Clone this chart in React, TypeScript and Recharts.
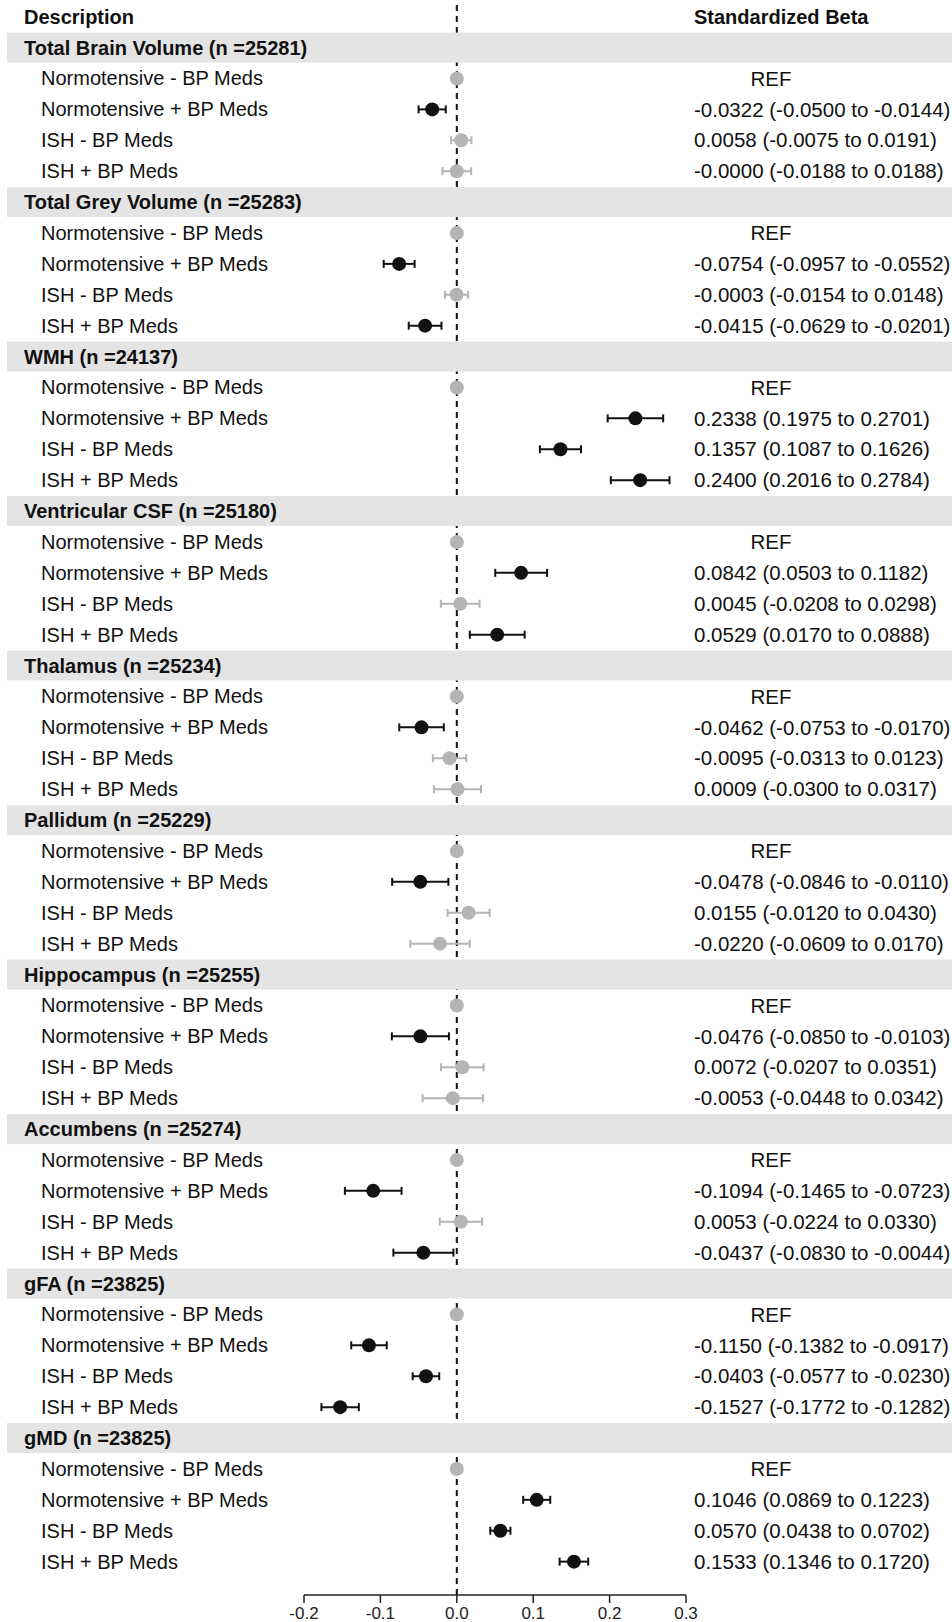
import React from "react";
import { ScatterChart, Scatter, XAxis, YAxis, ErrorBar, ReferenceLine } from "recharts";

const GROUPS = [
  "Total Brain Volume", "Total Grey Volume", "WMH", "Ventricular CSF", "Thalamus",
  "Pallidum", "Hippocampus", "Accumbens", "gFA", "gMD",
];
const GROUP_N = [25281, 25283, 24137, 25180, 25234, 25229, 25255, 25274, 23825, 23825];
const SUBGROUPS = ["Normotensive - BP Meds", "Normotensive + BP Meds", "ISH - BP Meds", "ISH + BP Meds"];

// beta / lower / upper for the three non-reference subgroups of every measure
const BETA = [
  [-0.0322, 0.0058, -0], [-0.0754, -0.0003, -0.0415], [0.2338, 0.1357, 0.24],
  [0.0842, 0.0045, 0.0529], [-0.0462, -0.0095, 0.0009], [-0.0478, 0.0155, -0.022],
  [-0.0476, 0.0072, -0.0053], [-0.1094, 0.0053, -0.0437], [-0.115, -0.0403, -0.1527],
  [0.1046, 0.057, 0.1533],
];
const LOWER = [
  [-0.05, -0.0075, -0.0188], [-0.0957, -0.0154, -0.0629], [0.1975, 0.1087, 0.2016],
  [0.0503, -0.0208, 0.017], [-0.0753, -0.0313, -0.03], [-0.0846, -0.012, -0.0609],
  [-0.085, -0.0207, -0.0448], [-0.1465, -0.0224, -0.083], [-0.1382, -0.0577, -0.1772],
  [0.0869, 0.0438, 0.1346],
];
const UPPER = [
  [-0.0144, 0.0191, 0.0188], [-0.0552, 0.0148, -0.0201], [0.2701, 0.1626, 0.2784],
  [0.1182, 0.0298, 0.0888], [-0.017, 0.0123, 0.0317], [-0.011, 0.043, 0.017],
  [-0.0103, 0.0351, 0.0342], [-0.0723, 0.033, -0.0044], [-0.0917, -0.023, -0.1282],
  [0.1223, 0.0702, 0.172],
];
const X_TICKS = [-0.2, -0.1, 0, 0.1, 0.2, 0.3];

type Row = { kind: "group" | "ref" | "est"; label: string; beta?: number; lo?: number; hi?: number };

const ROWS: Row[] = [];
GROUPS.forEach((g, gi) => {
  ROWS.push({ kind: "group", label: `${g} (n =${GROUP_N[gi]})` });
  SUBGROUPS.forEach((s, si) => {
    if (si === 0) ROWS.push({ kind: "ref", label: s, beta: 0 });
    else ROWS.push({ kind: "est", label: s, beta: BETA[gi][si - 1], lo: LOWER[gi][si - 1], hi: UPPER[gi][si - 1] });
  });
});

const fmt = (v: number) => (v < 0 || Object.is(v, -0) ? "-" : "") + Math.abs(v).toFixed(4);

const points = ROWS.map((r, i) => ({ r, i })).filter(({ r }) => r.kind !== "group");
const toPoint = ({ r, i }: { r: Row; i: number }) => ({
  x: r.beta, y: i, err: r.kind === "est" ? [r.beta! - r.lo!, r.hi! - r.beta!] : [0, 0],
});
const isSig = (r: Row) => r.lo! > 0 || r.hi! < 0;
const sigData = points.filter(({ r }) => r.kind === "est" && isSig(r)).map(toPoint);
const nsData = points.filter(({ r }) => r.kind === "est" && !isSig(r)).map(toPoint);
const refData = points.filter(({ r }) => r.kind === "ref").map(toPoint);

const TICK_IDX = [-1, ...ROWS.map((_, i) => i)];
const Y_DOMAIN = [-1.54, 50.08];
const INK = "#111";
const GREY = "#b4b4b4";
const FONT = "'Liberation Sans', Arial, sans-serif";

const LeftTick = (props: any) => {
  const idx = props.payload.value;
  const y = props.y;
  if (idx === -1) {
    return <text x={24} y={y} dy="0.35em" fontSize={20} fontWeight="bold" fill={INK} fontFamily={FONT}>Description</text>;
  }
  const row = ROWS[idx];
  if (!row) return null;
  if (row.kind === "group") {
    return (
      <g>
        <rect x={7} y={y - 15} width={945} height={30} fill="#e4e4e4" />
        <text x={24} y={y} dy="0.35em" fontSize={20} fontWeight="bold" fill={INK} fontFamily={FONT}>{row.label}</text>
      </g>
    );
  }
  return <text x={41} y={y} dy="0.35em" fontSize={20} fill={INK} fontFamily={FONT}>{row.label}</text>;
};

const RightTick = (props: any) => {
  const idx = props.payload.value;
  const y = props.y;
  if (idx === -1) {
    return <text x={694} y={y} dy="0.35em" fontSize={20} fontWeight="bold" fill={INK} fontFamily={FONT}>Standardized Beta</text>;
  }
  const row = ROWS[idx];
  if (!row || row.kind === "group") return null;
  if (row.kind === "ref") {
    return <text x={771} y={y} dy="0.35em" fontSize={20.5} textAnchor="middle" fill={INK} fontFamily={FONT}>REF</text>;
  }
  return (
    <text x={694} y={y} dy="0.35em" fontSize={20.5} fill={INK} fontFamily={FONT}>
      {`${fmt(row.beta!)} (${fmt(row.lo!)} to ${fmt(row.hi!)})`}
    </text>
  );
};

const dot = (fill: string) => (p: any) => <circle cx={p.cx} cy={p.cy} r={7} fill={fill} />;

export default function App() {
  return (
    <div style={{ position: "absolute", left: 0, top: 0, background: "#fff", fontFamily: FONT }}>
      <ScatterChart width={952} height={1622} margin={{ top: 0, right: 0, bottom: 0, left: 0 }}>
        <XAxis
          type="number"
          dataKey="x"
          domain={[-0.2, 0.3]}
          allowDataOverflow
          ticks={X_TICKS}
          tickFormatter={(v: number) => v.toFixed(1)}
          tick={{ fontSize: 17, fill: "#222", fontFamily: FONT }}
          axisLine={{ stroke: "#222", strokeWidth: 1.5 }}
          tickLine={{ stroke: "#222", strokeWidth: 1.5 }}
          tickSize={8}
          tickMargin={4}
          height={27}
        />
        <YAxis
          yAxisId="left"
          type="number"
          dataKey="y"
          domain={Y_DOMAIN}
          allowDataOverflow
          reversed
          ticks={TICK_IDX}
          interval={0}
          tick={<LeftTick />}
          axisLine={false}
          tickLine={false}
          width={304}
        />
        <YAxis
          yAxisId="right"
          orientation="right"
          type="number"
          dataKey="y"
          domain={Y_DOMAIN}
          allowDataOverflow
          reversed
          ticks={TICK_IDX}
          interval={0}
          tick={<RightTick />}
          axisLine={false}
          tickLine={false}
          width={266}
        />
        <ReferenceLine yAxisId="left" x={0} stroke={INK} strokeWidth={2} strokeDasharray="6 5" />
        <Scatter yAxisId="left" data={refData} shape={dot(GREY)} isAnimationActive={false} />
        <Scatter yAxisId="left" data={nsData} shape={dot(GREY)} isAnimationActive={false}>
          <ErrorBar dataKey="err" direction="x" width={4} strokeWidth={2} stroke={GREY} />
        </Scatter>
        <Scatter yAxisId="left" data={sigData} shape={dot(INK)} isAnimationActive={false}>
          <ErrorBar dataKey="err" direction="x" width={4} strokeWidth={2} stroke={INK} />
        </Scatter>
      </ScatterChart>
    </div>
  );
}
